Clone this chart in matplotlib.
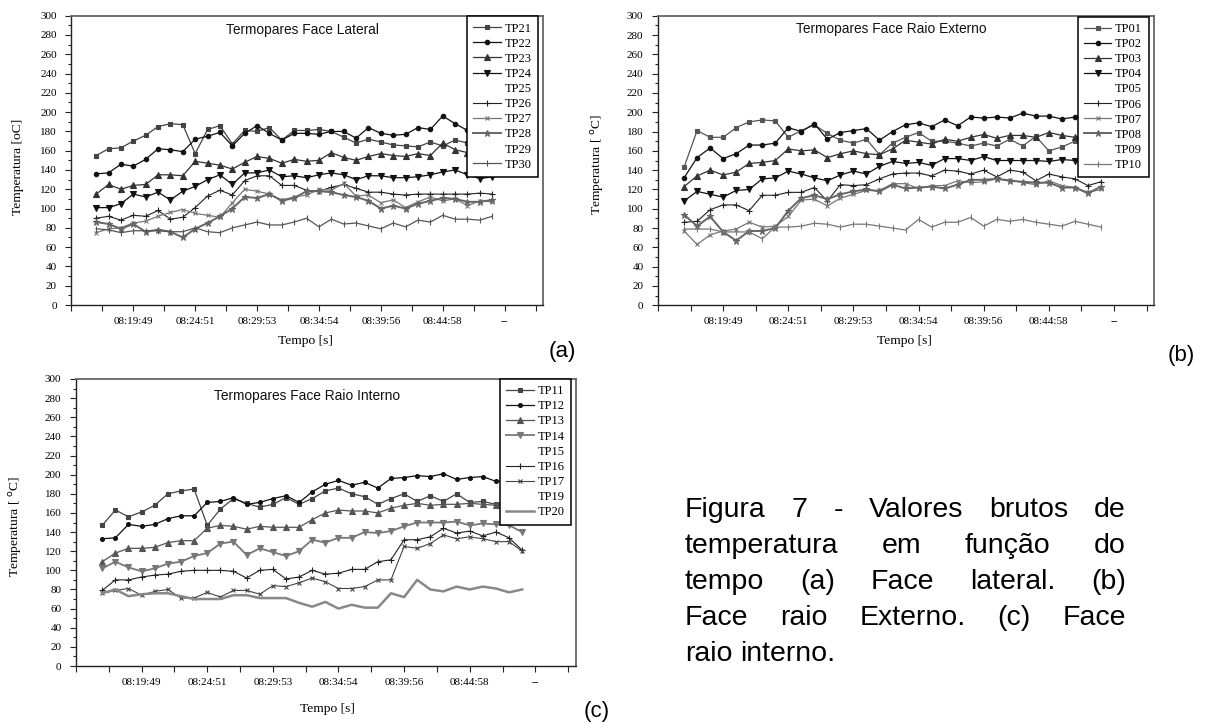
import numpy as np
import matplotlib
matplotlib.use("Agg")
import matplotlib.pyplot as plt
from matplotlib.lines import Line2D

# ---------------- data ----------------
tick_labels = ['08:19:49', '08:24:51', '08:29:53', '08:34:54', '08:39:56', '08:44:58', '--']
tick_pos = [3, 8, 13, 18, 23, 28, 33]

# (a) Face Lateral
tp21 = [155, 162, 163, 170, 176, 185, 188, 187, 157, 182, 186, 167, 181, 180, 184, 171, 181, 181, 182, 180, 174, 168, 172, 169, 166, 165, 164, 169, 165, 171, 168, 166, 165]
tp22 = [136, 137, 146, 144, 151, 162, 161, 159, 172, 175, 179, 165, 178, 186, 178, 171, 178, 178, 177, 180, 180, 173, 184, 178, 176, 177, 184, 182, 196, 188, 181, 178, 176]
tp23 = [115, 125, 120, 124, 125, 135, 135, 134, 149, 147, 145, 141, 148, 154, 152, 147, 151, 149, 150, 158, 153, 150, 154, 157, 155, 154, 157, 155, 168, 161, 158, 156, 155]
tp24 = [101, 101, 105, 115, 112, 117, 109, 118, 123, 130, 135, 125, 137, 137, 140, 133, 134, 132, 135, 137, 135, 130, 134, 134, 132, 132, 133, 135, 138, 140, 135, 131, 133]
tp26 = [90, 92, 88, 93, 92, 98, 89, 91, 101, 113, 119, 114, 129, 134, 134, 124, 124, 119, 118, 122, 125, 121, 117, 117, 115, 114, 115, 115, 115, 115, 115, 116, 115]
tp27 = [75, 79, 80, 85, 87, 92, 96, 99, 95, 93, 91, 106, 120, 118, 115, 109, 112, 114, 120, 119, 126, 113, 114, 106, 109, 101, 107, 112, 108, 110, 103, 108, 107]
tp28 = [86, 84, 79, 84, 76, 78, 76, 70, 79, 85, 92, 100, 112, 111, 115, 108, 111, 118, 118, 117, 114, 112, 108, 100, 103, 100, 105, 108, 111, 110, 107, 107, 109]
tp30 = [79, 78, 75, 77, 77, 77, 76, 76, 80, 76, 75, 80, 83, 86, 83, 83, 86, 90, 81, 89, 84, 85, 82, 79, 85, 81, 88, 86, 93, 89, 89, 88, 92]

# (b) Face Raio Externo
tp01 = [143, 181, 174, 174, 184, 190, 192, 191, 174, 181, 187, 178, 171, 168, 172, 156, 168, 174, 179, 170, 170, 168, 165, 168, 165, 172, 165, 175, 160, 164, 170, 172, 170]
tp02 = [132, 153, 163, 152, 157, 166, 166, 168, 184, 180, 188, 172, 179, 181, 183, 171, 180, 187, 189, 185, 192, 186, 195, 194, 195, 194, 199, 196, 196, 193, 195, 196, 195]
tp03 = [123, 134, 140, 135, 138, 147, 148, 150, 162, 160, 161, 153, 157, 160, 157, 156, 162, 171, 169, 167, 172, 170, 174, 177, 173, 176, 176, 174, 179, 176, 174, 175, 174]
tp04 = [108, 118, 115, 112, 119, 120, 131, 132, 139, 136, 132, 129, 135, 139, 136, 144, 149, 147, 148, 145, 152, 152, 150, 154, 150, 150, 150, 150, 149, 151, 150, 149, 150]
tp06 = [86, 87, 99, 104, 104, 98, 114, 114, 117, 117, 122, 108, 125, 124, 125, 131, 136, 137, 137, 134, 140, 139, 136, 140, 133, 140, 138, 129, 136, 133, 131, 124, 128]
tp07 = [77, 63, 73, 77, 79, 86, 81, 82, 92, 109, 110, 103, 111, 115, 119, 119, 126, 126, 121, 124, 124, 129, 127, 128, 131, 130, 127, 125, 129, 124, 122, 117, 120]
tp08 = [94, 82, 92, 76, 67, 77, 77, 80, 98, 111, 114, 110, 115, 118, 120, 118, 125, 121, 122, 123, 121, 125, 130, 130, 131, 129, 128, 127, 127, 122, 122, 116, 123]
tp10 = [79, 79, 79, 76, 76, 76, 69, 81, 81, 82, 85, 84, 81, 84, 84, 82, 80, 78, 89, 81, 86, 86, 91, 82, 89, 87, 89, 86, 84, 82, 87, 84, 81]

# (c) Face Raio Interno
tp11 = [147, 163, 156, 161, 168, 180, 183, 185, 147, 164, 175, 170, 166, 169, 176, 169, 175, 183, 186, 180, 177, 169, 175, 180, 172, 178, 172, 180, 171, 172, 169, 170, 169]
tp12 = [133, 134, 148, 146, 148, 154, 157, 157, 171, 172, 176, 169, 171, 175, 178, 171, 182, 190, 194, 189, 192, 186, 196, 197, 199, 198, 201, 195, 197, 198, 193, 194, 192]
tp13 = [109, 118, 123, 123, 124, 129, 131, 131, 144, 147, 146, 143, 146, 145, 145, 145, 153, 160, 163, 162, 162, 160, 165, 168, 170, 168, 169, 169, 170, 169, 168, 168, 167]
tp14 = [102, 109, 103, 99, 102, 107, 109, 115, 118, 128, 130, 116, 123, 119, 115, 120, 132, 129, 134, 134, 140, 139, 141, 146, 150, 150, 150, 151, 147, 149, 148, 147, 140]
tp16 = [79, 90, 90, 93, 95, 96, 99, 100, 100, 100, 99, 92, 100, 101, 91, 93, 100, 96, 97, 101, 101, 109, 111, 132, 132, 135, 144, 139, 141, 136, 140, 134, 121]
tp17 = [76, 79, 81, 74, 78, 80, 71, 71, 77, 72, 79, 79, 75, 84, 83, 87, 92, 88, 81, 81, 83, 90, 90, 125, 123, 128, 137, 133, 135, 133, 130, 130, 120]
tp20 = [76, 80, 73, 75, 76, 76, 73, 70, 70, 70, 74, 74, 71, 71, 71, 66, 62, 67, 60, 64, 61, 61, 76, 72, 90, 80, 78, 83, 80, 83, 81, 77, 80]

caption_lines = ["Figura 7 - Valores brutos de",
                 "temperatura em função do",
                 "tempo (a) Face lateral. (b)",
                 "Face raio Externo. (c) Face",
                 "raio interno."]

# ---------------- figure ----------------
W, H = 1207, 722
fig = plt.figure(figsize=(W / 100, H / 100), dpi=100)
fig.patch.set_facecolor('white')
SERIF = ['Liberation Serif', 'DejaVu Serif']
SANS = ['Liberation Sans', 'DejaVu Sans']

x = np.arange(len(tp21))


def fx(px):
    return px / W


def fy(py):
    return 1 - py / H


def make_axes(l, t, r, b):
    return fig.add_axes([fx(l), fy(b), fx(r - l), (b - t) / H])


def style(ax, title, tx, ty, ylabel, ylx, yly, xlx, xly):
    ax.set_xlim(-2, 36.1)
    ax.set_ylim(0, 300)
    ax.set_xticks(tick_pos)
    ax.set_xticklabels(tick_labels, fontfamily=SERIF, fontsize=8)
    ax.set_xticks(np.arange(-2, 36.1, 2.5), minor=True)
    ax.set_yticks(np.arange(0, 301, 20))
    ax.set_yticks(np.arange(0, 301, 10), minor=True)
    for lab in ax.get_yticklabels():
        lab.set_fontfamily(SERIF)
        lab.set_fontsize(8)
    ax.tick_params(axis='both', which='major', direction='out', length=4.5, width=0.8, color='#222')
    ax.tick_params(axis='both', which='minor', direction='out', length=2.5, width=0.8, color='#222')
    ax.tick_params(axis='x', which='minor', length=4.5)
    ax.tick_params(axis='x', pad=4)
    ax.tick_params(axis='y', pad=6)
    for s in ['left', 'bottom']:
        ax.spines[s].set_color('#222')
        ax.spines[s].set_linewidth(1.0)
    for s in ['top', 'right']:
        ax.spines[s].set_color('#666')
        ax.spines[s].set_linewidth(1.3)
    fig.text(fx(tx), fy(ty), title, family=SANS, fontsize=9.9, ha='center', va='center', color='#111')
    fig.text(fx(ylx), fy(yly), ylabel, family=SERIF, fontsize=9.7, rotation=90, ha='center', va='center')
    fig.text(fx(xlx), fy(xly), 'Tempo [s]', family=SERIF, fontsize=9.7, ha='center', va='center')


def draw_series(ax, series):
    handles = []
    for lab, vals, color, marker, ms, lw in series:
        if vals is None:
            h = Line2D([], [], linestyle='none', marker='none', label=lab)
        else:
            h, = ax.plot(x, vals, color=color, marker=marker, markersize=ms, lw=lw,
                         markeredgewidth=0.8, label=lab)
        handles.append(h)
    return handles


def add_legend(ax, handles, right, top):
    leg = fig.legend(handles=handles, loc='upper right', bbox_to_anchor=(fx(right), fy(top)),
                     bbox_transform=fig.transFigure, prop={'family': SERIF, 'size': 9},
                     frameon=True, fancybox=False, framealpha=1, edgecolor='black',
                     facecolor='white', handlelength=2.2, handletextpad=0.3,
                     labelspacing=0.25, borderpad=0.5, borderaxespad=0, numpoints=1)
    leg.get_frame().set_linewidth(1.1)
    leg.set_zorder(10)
    return leg


# (a)
axa = make_axes(71.4, 15.7, 543, 305)
ser_a = [('TP21', tp21, '#444444', 's', 3.2, 0.9),
         ('TP22', tp22, '#111111', 'o', 3.2, 0.9),
         ('TP23', tp23, '#333333', '^', 4.2, 0.9),
         ('TP24', tp24, '#111111', 'v', 4.2, 0.9),
         ('TP25', None, None, None, None, None),
         ('TP26', tp26, '#222222', '+', 4.5, 0.8),
         ('TP27', tp27, '#777777', 'x', 3.5, 0.9),
         ('TP28', tp28, '#666666', '*', 4.5, 1.4),
         ('TP29', None, None, None, None, None),
         ('TP30', tp30, '#555555', '|', 4.0, 0.9)]
ha = draw_series(axa, ser_a)
style(axa, 'Termopares Face Lateral', 302, 30, 'Temperatura [oC]', 18, 167, 305, 341)
add_legend(axa, ha, 538, 16.3)

# (b)
axb = make_axes(658, 15.7, 1154.4, 305.3)
ser_b = [('TP01', tp01, '#555555', 's', 3.2, 0.9),
         ('TP02', tp02, '#111111', 'o', 3.2, 0.9),
         ('TP03', tp03, '#333333', '^', 4.2, 0.9),
         ('TP04', tp04, '#111111', 'v', 4.2, 0.9),
         ('TP05', None, None, None, None, None),
         ('TP06', tp06, '#222222', '+', 4.5, 0.8),
         ('TP07', tp07, '#777777', 'x', 3.5, 0.9),
         ('TP08', tp08, '#666666', '*', 4.5, 1.4),
         ('TP09', None, None, None, None, None),
         ('TP10', tp10, '#777777', '|', 4.0, 0.9)]
hb = draw_series(axb, ser_b)
style(axb, 'Termopares Face Raio Externo', 891, 29, 'Temperatura [ $^{\\mathrm{o}}$C]', 598, 165, 904, 341)
add_legend(axb, hb, 1148.6, 16.7)

# (c)
axc = make_axes(76, 379, 576, 666)
ser_c = [('TP11', tp11, '#444444', 's', 3.2, 0.9),
         ('TP12', tp12, '#111111', 'o', 2.8, 0.9),
         ('TP13', tp13, '#555555', '^', 4.2, 0.9),
         ('TP14', tp14, '#777777', 'v', 4.5, 1.3),
         ('TP15', None, None, None, None, None),
         ('TP16', tp16, '#222222', '+', 4.5, 0.8),
         ('TP17', tp17, '#444444', 'x', 3.5, 0.8),
         ('TP19', None, None, None, None, None),
         ('TP20', tp20, '#888888', 'none', 0, 1.8)]
hc = draw_series(axc, ser_c)
style(axc, 'Termopares Face Raio Interno', 307, 396, 'Temperatura [ $^{\\mathrm{o}}$C]', 16, 527, 327, 709)
add_legend(axc, hc, 571, 379)

# panel labels
for lab, px, py in [('(a)', 562, 351), ('(b)', 1181, 355), ('(c)', 597, 712)]:
    fig.text(fx(px), fy(py), lab, family=SANS, fontsize=16, ha='center', va='center')

# justified caption
renderer = fig.canvas.get_renderer()
cap_left, cap_right = 685, 1126
cap_fs = 20.5
baselines = [517, 553, 589, 625, 661]
space_px = 0.278 * cap_fs / 0.72
for i, line in enumerate(caption_lines):
    words = line.split()
    texts = [fig.text(0, fy(baselines[i]), w, family=SANS, fontsize=cap_fs, ha='left', va='baseline')
             for w in words]
    widths = [t.get_window_extent(renderer).width for t in texts]
    if i == len(caption_lines) - 1 or len(words) == 1:
        gap = space_px
    else:
        gap = (cap_right - cap_left - sum(widths)) / (len(words) - 1)
    xp = cap_left
    for t, w in zip(texts, widths):
        t.set_x(fx(xp))
        xp += w + gap

fig.savefig('out.png', dpi=100, facecolor='white')
